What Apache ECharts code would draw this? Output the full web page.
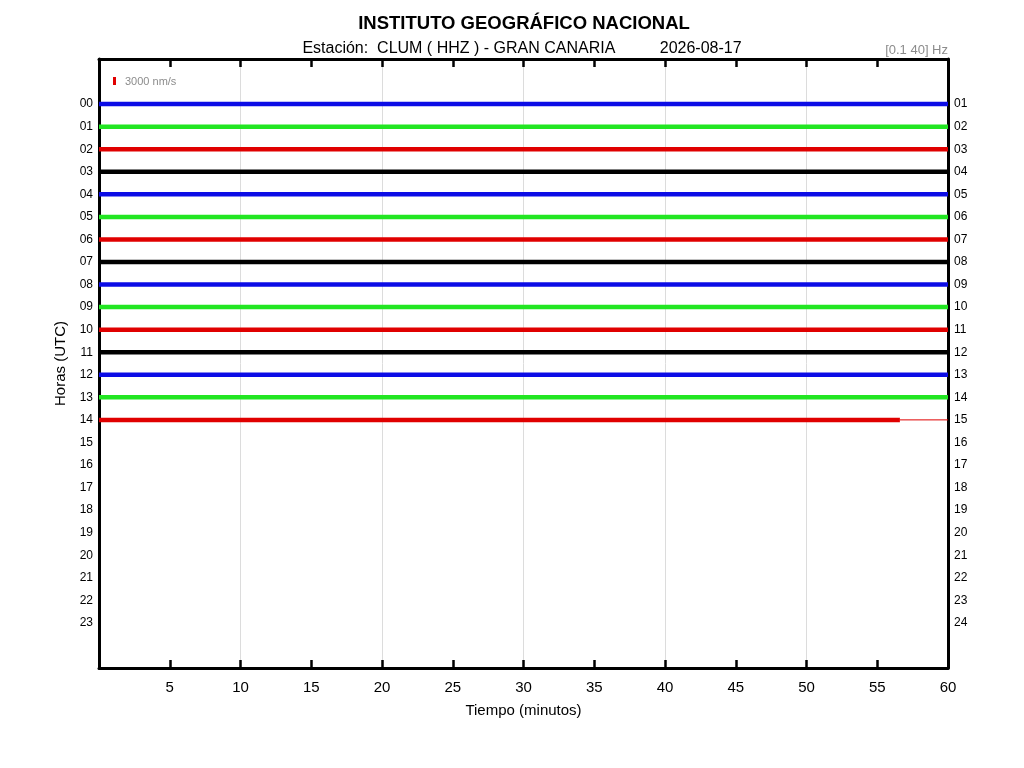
<!DOCTYPE html>
<html>
<head>
<meta charset="utf-8">
<script src="https://cdn.jsdelivr.net/npm/echarts@6/dist/echarts.min.js"></script>
<style>html,body{margin:0;padding:0;background:#fff}#c{width:1024px;height:768px}</style>
</head>
<body>
<div id="c"></div>
<script>
// ---- data ----
var rowHours = [0,1,2,3,4,5,6,7,8,9,10,11,12,13,14];
var traceStart = [0,0,0,0,0,0,0,0,0,0,0,0,0,0,0];
var traceEnd = [60,60,60,60,60,60,60,60,60,60,60,60,60,60,56.6];
var lastRowTailEnd = 60;
var traceColors = ['#0c0ce6','#22e622','#e00000','#000000'];
var leftLabels = ['00','01','02','03','04','05','06','07','08','09','10','11','12','13','14','15','16','17','18','19','20','21','22','23'];
var rightLabels = ['01','02','03','04','05','06','07','08','09','10','11','12','13','14','15','16','17','18','19','20','21','22','23','24'];
var xTicks = [5,10,15,20,25,30,35,40,45,50,55,60];

var FONT = '"Liberation Sans", Arial, sans-serif';
var series = [];
rowHours.forEach(function(h, i){
  var col = traceColors[h % 4];
  series.push({
    type:'line', xAxisIndex:0, yAxisIndex:0, symbol:'none', silent:true,
    data:[[traceStart[i], h],[traceEnd[i], h]],
    lineStyle:{color:col, width:4.5}, z:3
  });
  if (traceEnd[i] < lastRowTailEnd) {
    series.push({
      type:'line', xAxisIndex:0, yAxisIndex:0, symbol:'none', silent:true,
      data:[[traceEnd[i], h],[lastRowTailEnd, h]],
      lineStyle:{color:col, width:1}, z:3
    });
  }
});

var chart = echarts.init(document.getElementById('c'), null, {renderer:'canvas'});
chart.setOption({
  animation:false,
  backgroundColor:'#fff',
  textStyle:{fontFamily:FONT},
  title:[
    {text:'INSTITUTO GEOGRÁFICO NACIONAL', left:519, top:9, textAlign:'center',
     textStyle:{fontFamily:FONT, fontSize:18.5, fontWeight:'bold', color:'#000'}},
    {text:'Estación:  CLUM ( HHZ ) - GRAN CANARIA          2026-08-17', left:517, top:36, textAlign:'center',
     textStyle:{fontFamily:FONT, fontSize:16, fontWeight:'normal', color:'#000'}},
    {text:'[0.1 40] Hz', right:71, top:39,
     textStyle:{fontFamily:FONT, fontSize:13, fontWeight:'normal', color:'#8c8c8c'}}
  ],
  grid:{left:99, right:76, top:59, bottom:100, containLabel:false},
  xAxis:[
    {type:'value', position:'bottom', min:0, max:60, interval:5,
     name:'Tiempo (minutos)', nameLocation:'middle', nameGap:35,
     nameTextStyle:{fontFamily:FONT, fontSize:15, color:'#000'},
     axisLine:{show:true, onZero:false, lineStyle:{color:'#000', width:3}},
     axisTick:{show:true, inside:true, length:8, lineStyle:{color:'#000', width:2.5}},
     axisLabel:{show:true, margin:12, fontFamily:FONT, fontSize:15, color:'#000',
       formatter:function(v){ return xTicks.indexOf(v) >= 0 ? String(v) : ''; }},
     splitLine:{show:false}},
    {type:'value', position:'top', min:0, max:60, interval:5,
     axisLine:{show:true, onZero:false, lineStyle:{color:'#000', width:3}},
     axisTick:{show:true, inside:true, length:8, lineStyle:{color:'#000', width:2.5}},
     axisLabel:{show:false}, splitLine:{show:false}},
    {type:'value', position:'bottom', min:0, max:60, interval:10,
     axisLine:{show:false, onZero:false}, axisTick:{show:false}, axisLabel:{show:false},
     splitLine:{show:true, lineStyle:{color:'#dcdcdc', width:1}}}
  ],
  yAxis:[
    {type:'value', position:'left', min:-2, max:25, interval:1, inverse:true,
     name:'Horas (UTC)', nameLocation:'middle', nameGap:25, nameRotate:90,
     nameTextStyle:{fontFamily:FONT, fontSize:15, color:'#000'},
     axisLine:{show:true, onZero:false, lineStyle:{color:'#000', width:3}},
     axisTick:{show:false},
     axisLabel:{show:true, margin:6, fontFamily:FONT, fontSize:12, color:'#000',
       formatter:function(v){ return (v>=0 && v<leftLabels.length) ? leftLabels[v] : ''; }},
     splitLine:{show:false}},
    {type:'value', position:'right', min:-2, max:25, interval:1, inverse:true,
     axisLine:{show:true, onZero:false, lineStyle:{color:'#000', width:3}},
     axisTick:{show:false},
     axisLabel:{show:true, margin:6, fontFamily:FONT, fontSize:12, color:'#000',
       formatter:function(v){ return (v>=0 && v<rightLabels.length) ? rightLabels[v] : ''; }},
     splitLine:{show:false}}
  ],
  graphic:[
    {type:'rect', left:113, top:77, shape:{width:3, height:8}, style:{fill:'#e00000'}, z:10},
    {type:'text', left:125, top:76, style:{text:'3000 nm/s', fill:'#8c8c8c', font:'11px "Liberation Sans", Arial, sans-serif'}, z:10}
  ],
  series:series
});
</script>
</body>
</html>
